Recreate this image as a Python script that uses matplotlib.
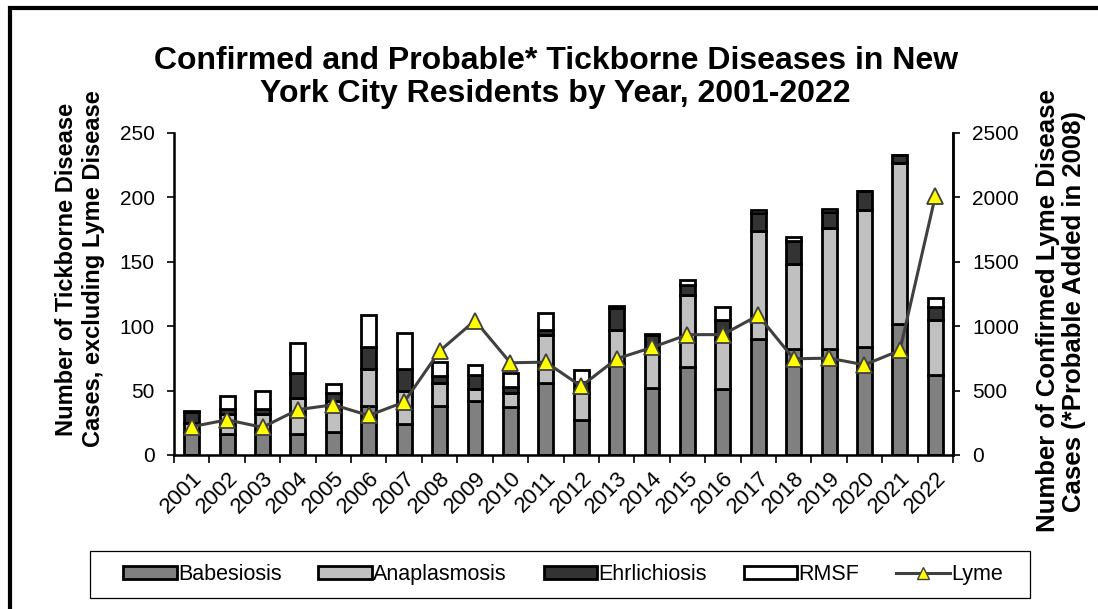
import numpy as np
import matplotlib.pyplot as plt
from matplotlib.patches import Patch, Rectangle
from matplotlib.lines import Line2D

plt.rcParams['font.family'] = ['Liberation Sans', 'DejaVu Sans']

years = [str(y) for y in range(2001, 2023)]
babesiosis = [17, 16, 17, 16, 18, 38, 24, 38, 42, 37, 56, 27, 71, 52, 68, 51, 90, 82, 82, 84, 102, 62]
anaplasmosis = [8, 16, 15, 28, 24, 29, 26, 18, 9, 11, 37, 21, 26, 28, 56, 39, 84, 66, 94, 106, 125, 43]
ehrlichiosis = [8, 4, 4, 20, 6, 17, 17, 5, 11, 5, 4, 9, 17, 13, 8, 15, 14, 18, 13, 15, 6, 10]
rmsf = [1, 10, 14, 23, 7, 25, 28, 11, 8, 11, 13, 9, 2, 1, 4, 10, 2, 3, 2, 0, 0, 7]
lyme = [220, 273, 215, 352, 390, 307, 411, 807, 1044, 716, 721, 534, 747, 835, 934, 935, 1084, 747, 752, 700, 812, 2010]

fig = plt.figure(figsize=(10.98, 6.09), dpi=100)
ax = fig.add_axes([174/1098, 1-455/609, (953-174)/1098, (455-133)/609])

x = np.arange(len(years))
w = 0.42
ec = dict(edgecolor='black', linewidth=2.0)
b1 = np.array(babesiosis)
b2 = b1 + np.array(anaplasmosis)
b3 = b2 + np.array(ehrlichiosis)
ax.bar(x, babesiosis, w, color='#808080', **ec)
ax.bar(x, anaplasmosis, w, bottom=b1, color='#c0c0c0', **ec)
ax.bar(x, ehrlichiosis, w, bottom=b2, color='#333333', **ec)
ax.bar(x, rmsf, w, bottom=b3, color='white', **ec)

ax.set_xlim(-0.5, len(years) - 0.5)
ax.set_ylim(0, 250)
ax.set_yticks(range(0, 251, 50))
ax.set_xticks(x)
ax.set_xticklabels(years, rotation=45, ha='right', va='top', rotation_mode='anchor')
ax.set_xticks(np.arange(-0.5, len(years), 1), minor=True)
ax.tick_params(axis='x', which='major', length=0, pad=9, labelsize=16)
ax.tick_params(axis='x', which='minor', length=6, width=1.2, direction='out')
ax.tick_params(axis='y', length=5, width=1.2, labelsize=15, pad=9)
ax.spines['top'].set_visible(False)
for s in ['left', 'bottom', 'right']:
    ax.spines[s].set_linewidth(1.8)

ax2 = ax.twinx()
ax2.plot(x, lyme, color='#404040', linewidth=2.2, marker='^', markersize=11,
         markerfacecolor='#ffff00', markeredgecolor='#404040', markeredgewidth=1.3)
ax2.set_ylim(0, 2500)
ax2.set_yticks(range(0, 2501, 500))
ax2.tick_params(axis='y', length=5, width=1.2, labelsize=15, pad=9)
ax2.spines['top'].set_visible(False)
ax2.spines['right'].set_linewidth(1.8)

# axis titles placed by hand, as in the original
fig.text(80/1098, 1-269/609, 'Number of Tickborne Disease\nCases, excluding Lyme Disease',
         rotation=90, ha='center', va='center', fontsize=17, fontweight='bold', linespacing=1.25)
fig.text(1061/1098, 1-311/609, 'Number of Confirmed Lyme Disease\nCases (*Probable Added in 2008)',
         rotation=90, ha='center', va='center', fontsize=18.5, fontweight='bold', linespacing=1.1)

fig.text(0.506, 0.873, 'Confirmed and Probable* Tickborne Diseases in New\nYork City Residents by Year, 2001-2022',
         ha='center', va='center', fontsize=23, fontweight='bold', linespacing=1.15)

handles = [
    Patch(facecolor='#808080', edgecolor='black', linewidth=2.0, label='Babesiosis'),
    Patch(facecolor='#c0c0c0', edgecolor='black', linewidth=2.0, label='Anaplasmosis'),
    Patch(facecolor='#333333', edgecolor='black', linewidth=2.0, label='Ehrlichiosis'),
    Patch(facecolor='white', edgecolor='black', linewidth=2.0, label='RMSF'),
    Line2D([], [], color='#404040', linewidth=2.2, marker='^', markersize=8,
           markerfacecolor='#ffff00', markeredgecolor='#404040', label='Lyme'),
]
leg = fig.legend(handles=handles, loc='center', ncol=5,
                 bbox_to_anchor=(563/1098, 1-574.5/609),
                 fontsize=15.5, frameon=False, handlelength=2.5,
                 handleheight=0.6, handletextpad=0.05, columnspacing=1.7,
                 borderaxespad=0, borderpad=0)
fig.patches.append(Rectangle((90/1098, 11/609), 940/1098, 47/609, transform=fig.transFigure,
                             fill=False, edgecolor='black', linewidth=0.9))

fig.patches.append(Rectangle((10/1098, -1), 2, 2 - 8/609, transform=fig.transFigure,
                             fill=False, edgecolor='black', linewidth=3))

fig.savefig('out.png', dpi=100)
